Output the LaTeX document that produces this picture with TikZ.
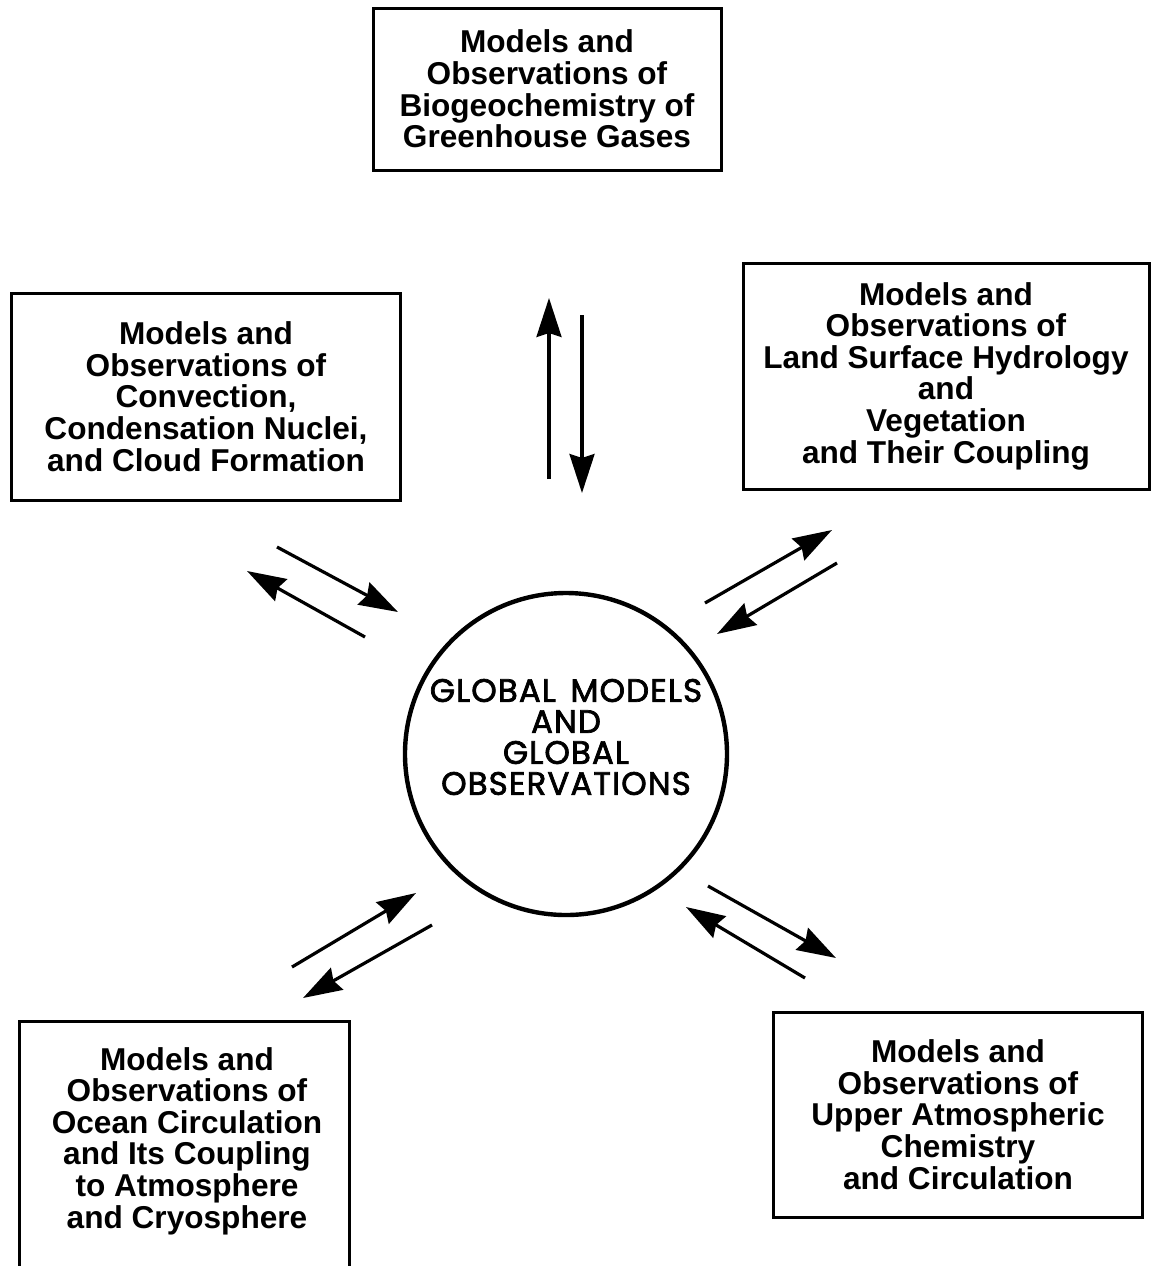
\documentclass[tikz,border=0pt]{standalone}
\usepackage{fontspec}
\setmainfont{Liberation Sans}
\newfontfamily\circfont{Poppins}[FakeBold=2.2, LetterSpace=3.5, WordSpace=1.5]
\usetikzlibrary{arrows.meta}
\tikzset{
  boxnode/.style={draw, line width=1.5pt, rectangle, align=center, inner sep=0pt,
    font=\fontsize{15.8}{15.8}\selectfont\bfseries},
  boxline/.style={draw, line width=1.5pt},
  flow/.style={line width=1.6pt, -{Stealth[length=19.5pt,width=12.5pt,inset=2pt]}},
  globe/.style={draw, circle, line width=2.2pt, minimum size=161pt, inner sep=0pt},
  globetext/.style={align=center, inner sep=0pt, font=\circfont\fontsize{16.2}{15.5}\selectfont}
}
\begin{document}
\begin{tikzpicture}[x=0.5pt,y=-0.5pt]
\useasboundingbox (0,0) rectangle (1151,1266);
\clip (0,0) rectangle (1151,1266);

% boxes
\node[boxnode, minimum width=174pt, minimum height=81pt] (bio) at (547,89)
  {Models and\\Observations of\\Biogeochemistry of\\Greenhouse Gases};
\node[boxnode, minimum width=194.5pt, minimum height=103.5pt] (conv) at (206,396.5)
  {Models and\\Observations of\\Convection,\\Condensation Nuclei,\\and Cloud Formation};
\node[boxnode, minimum width=203pt, minimum height=113pt] (land) at (946,376)
  {Models and\\Observations of\\Land Surface Hydrology\\and\\Vegetation\\and Their Coupling};
\node[boxnode, minimum width=184.5pt, minimum height=102.5pt] (upper) at (958,1114.5)
  {Models and\\Observations of\\Upper Atmospheric\\Chemistry\\and Circulation};
\draw[boxline] (19,1021) rectangle (349,1290);
\node[boxnode, draw=none] (ocean) at (187,1141)
  {Models and\\Observations of\\Ocean Circulation\\and Its Coupling\\to Atmosphere\\and Cryosphere};

% central circle
\node[globe] (glob) at (566,754) {};
\node[globetext] (globtext) at (566,737)
  {GLOBAL MODELS\\AND\\GLOBAL\\OBSERVATIONS};

% arrow end points
\coordinate (u1s) at (549,479); \coordinate (u1e) at (549,298);
\coordinate (u2s) at (582,315); \coordinate (u2e) at (582,493);
\coordinate (a1s) at (277,547); \coordinate (a1e) at (398,612);
\coordinate (a2s) at (365,637); \coordinate (a2e) at (247,571);
\coordinate (b1s) at (705,603); \coordinate (b1e) at (832,530);
\coordinate (b2s) at (837,563); \coordinate (b2e) at (717,634);
\coordinate (c1s) at (292,967); \coordinate (c1e) at (416,893);
\coordinate (c2s) at (432,925); \coordinate (c2e) at (303,998);
\coordinate (d1s) at (708,886); \coordinate (d1e) at (836,958);
\coordinate (d2s) at (805,978); \coordinate (d2e) at (686,907);

\draw[flow] (u1s) -- (u1e);
\draw[flow] (u2s) -- (u2e);
\draw[flow] (a1s) -- (a1e);
\draw[flow] (a2s) -- (a2e);
\draw[flow] (b1s) -- (b1e);
\draw[flow] (b2s) -- (b2e);
\draw[flow] (c1s) -- (c1e);
\draw[flow] (c2s) -- (c2e);
\draw[flow] (d1s) -- (d1e);
\draw[flow] (d2s) -- (d2e);
\end{tikzpicture}
\end{document}
